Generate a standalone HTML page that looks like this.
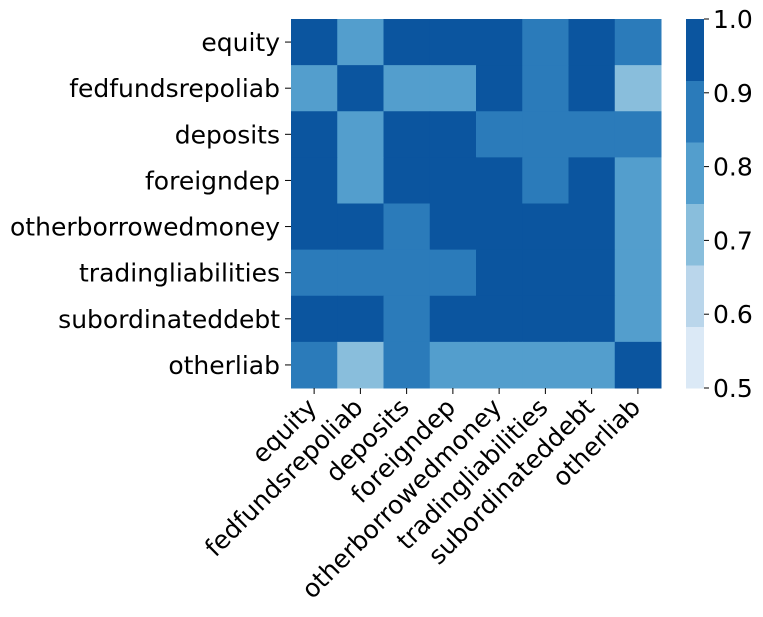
<!DOCTYPE html>
<html><head><meta charset="utf-8"><style>
body{margin:0;background:#fff;}
svg{display:block;font-family:"DejaVu Sans","Liberation Sans",sans-serif;}
</style></head><body>
<svg id="chart" width="763" height="617" viewBox="0 0 763 617" xmlns="http://www.w3.org/2000/svg"></svg>
<script>
const labels = ["equity","fedfundsrepoliab","deposits","foreigndep","otherborrowedmoney","tradingliabilities","subordinateddebt","otherliab"];
const row0 = [1.0,0.80,1.0,1.0,1.0,0.88,1.0,0.88];
const row1 = [0.80,1.0,0.80,0.80,1.0,0.88,1.0,0.72];
const row2 = [1.0,0.80,1.0,1.0,0.88,0.88,0.88,0.88];
const row3 = [1.0,0.80,1.0,1.0,1.0,0.88,1.0,0.80];
const row4 = [1.0,1.0,0.88,1.0,1.0,1.0,1.0,0.80];
const row5 = [0.88,0.88,0.88,0.88,1.0,1.0,1.0,0.80];
const row6 = [1.0,1.0,0.88,1.0,1.0,1.0,1.0,0.80];
const row7 = [0.88,0.72,0.88,0.80,0.80,0.80,0.80,1.0];
const matrix = [row0,row1,row2,row3,row4,row5,row6,row7];
const cbTicks = [0.5,0.6,0.7,0.8,0.9,1.0];
const vmin=0.5, vmax=1.0;
const colors=["#dbe9f6","#bad6eb","#89bedc","#539ecd","#2b7bba","#0b559f"];
const NS="http://www.w3.org/2000/svg";
const svg=document.getElementById('chart');
function mk(t,a){const e=document.createElementNS(NS,t);for(const k in a)e.setAttribute(k,a[k]);svg.appendChild(e);return e;}
const L=291,T=19,W=370,H=369,n=labels.length,cw=W/n,ch=H/n;
const xPos=i=>L+i*cw, yPos=j=>T+j*ch;
function colorFor(v){let k=Math.floor((v-vmin)/(vmax-vmin)*6);if(k>5)k=5;if(k<0)k=0;return colors[k];}
matrix.forEach((row,j)=>row.forEach((v,i)=>{
  const r=mk('rect',{x:xPos(i),y:yPos(j),width:cw+0.5,height:ch+0.5,fill:colorFor(v)});
  
  
}));
labels.forEach((lab,j)=>{
  const y=yPos(j)+ch/2;
  const tk=mk('line',{x1:L-6,x2:L,y1:y,y2:y,stroke:'#000','stroke-width':1});
  
  
  const t=mk('text',{x:L-11,y:y+9,'text-anchor':'end','font-size':25,fill:'#000'});
  t.textContent=lab;
  
  
});
labels.forEach((lab,i)=>{
  const x=xPos(i)+cw/2;
  const tk=mk('line',{x1:x,x2:x,y1:T+H,y2:T+H+6,stroke:'#000','stroke-width':1});
  
  
  const t=mk('text',{x:0,y:0,'text-anchor':'end','font-size':25,fill:'#000',transform:`translate(${x+4},${T+H+21}) rotate(-45)`});
  t.textContent=lab;
  
  
});
const CL=686,CW=18,cbT=19,cbH=369;
const cbY=v=>cbT+(vmax-v)/(vmax-vmin)*cbH;
colors.forEach((c,k)=>{
  const v0=vmin+k*(vmax-vmin)/6,v1=vmin+(k+1)*(vmax-vmin)/6;
  const r=mk('rect',{x:CL,y:cbY(v1),width:CW,height:cbY(v0)-cbY(v1)+0.5,fill:c});
  
  
});
cbTicks.forEach(v=>{
  const y=cbY(v);
  const tk=mk('line',{x1:CL+CW,x2:CL+CW+5,y1:y,y2:y,stroke:'#000','stroke-width':1});
  
  
  const t=mk('text',{x:CL+CW+9,y:y+9,'font-size':25,fill:'#000'});
  t.textContent=v.toFixed(1);
  
  
});
</script>
</body></html>
